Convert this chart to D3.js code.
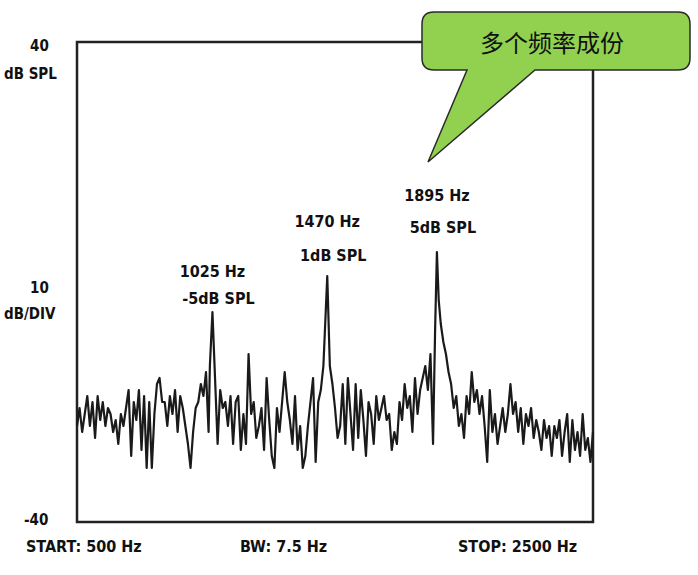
<!DOCTYPE html>
<html><head><meta charset="utf-8">
<script src="https://cdn.jsdelivr.net/npm/d3@7"></script>
<style>body{margin:0;background:#fff}text{font-family:"DejaVu Sans Condensed","Liberation Sans Narrow",sans-serif;font-weight:bold;fill:#111}</style>
</head><body><svg id="chart" width="698" height="575"></svg>
<script>
var freq = [500,510,520,530,540,550,560,570,580,590,600,610,620,630,640,650,660,670,680,690,700,710,720,730,740,750,760,770,780,790,800,810,820,830,840,850,860,870,880,890,900,910,920,930,940,950,960,970,980,990,1000,1010,1015,1025,1035,1045,1055,1065,1075,1085,1095,1105,1115,1125,1135,1145,1155,1165,1175,1185,1195,1205,1215,1225,1235,1245,1255,1265,1275,1285,1295,1305,1315,1325,1335,1345,1355,1365,1375,1385,1395,1405,1415,1425,1435,1445,1455,1470,1480,1490,1500,1510,1520,1530,1540,1550,1560,1570,1580,1590,1600,1610,1620,1630,1640,1650,1660,1670,1680,1690,1700,1710,1720,1730,1740,1750,1760,1770,1780,1790,1800,1810,1820,1830,1840,1850,1860,1870,1880,1888,1895,1902,1910,1920,1930,1940,1950,1960,1970,1980,1990,2000,2010,2020,2030,2040,2050,2060,2070,2080,2090,2100,2110,2120,2130,2140,2150,2160,2170,2180,2190,2200,2210,2220,2230,2240,2250,2260,2270,2280,2290,2300,2310,2320,2330,2340,2350,2360,2370,2380,2390,2400,2410,2420,2430,2440,2450,2460,2470,2480,2490,2500];
var level = [-24,-21,-25,-22,-19,-24,-20,-26,-19,-23,-20,-24,-21,-22,-25,-23,-27,-22,-24,-21,-18,-29,-20,-23,-18,-28,-19,-31,-20,-31,-22,-17,-16,-20,-20,-24,-19,-22,-18,-25,-19,-21,-24,-27,-31,-25,-21,-20,-17,-19,-15,-25,-14,-5,-16,-27,-18,-21,-20,-24,-19,-27,-20,-19,-28,-22,-27,-12,-22,-20,-26,-24,-21,-28,-16,-23,-29,-31,-21,-25,-20,-15,-20,-23,-27,-19,-28,-24,-31,-29,-24,-20,-16,-30,-20,-18,-14,1,-14,-17,-21,-26,-24,-17,-27,-16,-22,-28,-17,-26,-18,-23,-29,-20,-22,-27,-19,-23,-21,-19,-23,-22,-28,-25,-27,-20,-23,-17,-21,-19,-25,-16,-22,-18,-16,-14,-18,-12,-27,-8,5,-3,-7,-10,-12,-15,-17,-21,-19,-24,-22,-26,-19,-22,-15,-20,-18,-22,-19,-24,-30,-18,-25,-22,-27,-24,-21,-25,-22,-17,-22,-20,-25,-21,-27,-22,-24,-21,-26,-23,-25,-28,-23,-26,-24,-29,-24,-26,-23,-29,-25,-22,-30,-23,-28,-25,-29,-22,-28,-26,-30,-25];
var peaks = [
  {f: 1025, hz: "1025 Hz", db: "-5dB SPL", y1: 277, y2: 304},
  {f: 1470, hz: "1470 Hz", db: "1dB SPL", y1: 227, y2: 261},
  {f: 1895, hz: "1895 Hz", db: "5dB SPL", y1: 201, y2: 233}
];

var svg = d3.select("#chart");
var x = d3.scaleLinear().domain([500, 2500]).range([77, 593]);
var y = d3.scaleLinear().domain([-40, 40]).range([522, 42]);

svg.append("rect").attr("x", 77).attr("y", 42).attr("width", 516).attr("height", 480)
  .attr("fill", "none").attr("stroke", "#222").attr("stroke-width", 2.5);

var line = d3.line().x(function (d, i) { return x(freq[i]); }).y(function (d) { return y(d); });
svg.append("path").datum(level).attr("d", line)
  .attr("fill", "none").attr("stroke", "#1a1a1a").attr("stroke-width", 2.2).attr("stroke-linejoin", "round");

function label(t, px, py, size) {
  svg.append("text").attr("x", px).attr("y", py).attr("font-size", size || 15).text(t);
}
label("40", 30, 51); label("dB SPL", 4, 79);
label("10", 30, 293); label("dB/DIV", 4, 319);
label("-40", 24, 525);
label("START: 500 Hz", 26, 552, 16); label("BW: 7.5 Hz", 240, 552, 16); label("STOP: 2500 Hz", 458, 552, 16);

peaks.forEach(function (p) {
  svg.append("text").attr("x", x(p.f)).attr("y", p.y1).attr("text-anchor", "middle").attr("font-size", 16).text(p.hz);
  svg.append("text").attr("x", x(p.f) + 6).attr("y", p.y2).attr("text-anchor", "middle").attr("font-size", 16).text(p.db);
});

// callout
svg.append("path")
  .attr("d", "M434,12 H678 Q690,12 690,24 V58 Q690,70 678,70 H535 L428,162 L467,70 H434 Q422,70 422,58 V24 Q422,12 434,12 Z")
  .attr("fill", "#92d050").attr("stroke", "#2a2a2a").attr("stroke-width", 1.5);
svg.append("text").attr("x", 480).attr("y", 52).attr("font-size", 24)
  .style("font-family", "'Noto Sans CJK SC'").style("font-weight", "normal").text("多个频率成份");
</script></body></html>
